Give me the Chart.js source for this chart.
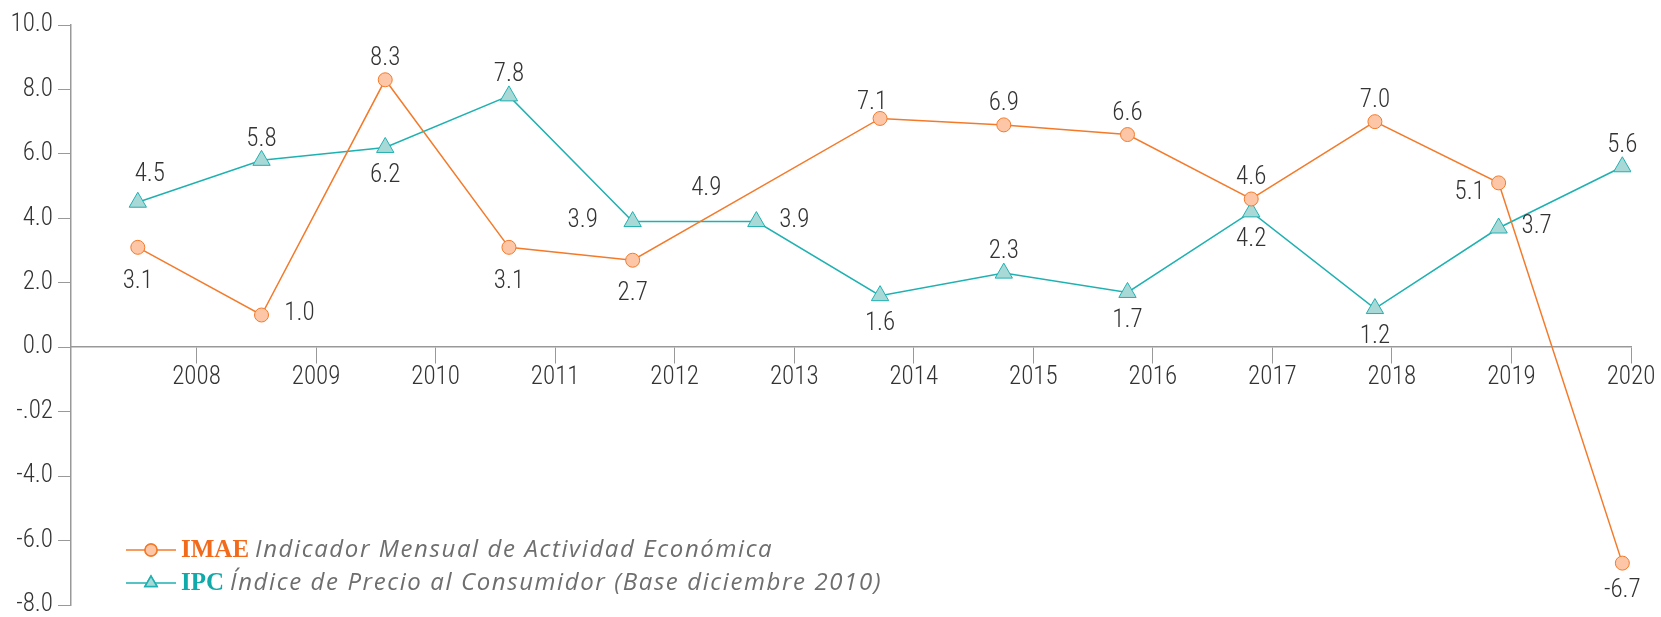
<!DOCTYPE html>
<html>
<head>
<meta charset="utf-8">
<script src="https://cdn.jsdelivr.net/npm/chart.js@4.4.1/dist/chart.umd.min.js"></script>
<style>
  html, body { margin: 0; padding: 0; background: #fff; }
  #wrap { width: 1661px; height: 617px; position: relative; }
</style>
</head>
<body>
<div id="wrap"><canvas id="chart"></canvas></div>
<script>
// data
const years = [2008, 2009, 2010, 2011, 2012, 2013, 2014, 2015, 2016, 2017, 2018, 2019, 2020];
const imae = [3.1, 1.0, 8.3, 3.1, 2.7, 4.9, 7.1, 6.9, 6.6, 4.6, 7.0, 5.1, -6.7];
const ipc = [4.5, 5.8, 6.2, 7.8, 3.9, 3.9, 1.6, 2.3, 1.7, 4.2, 1.2, 3.7, 5.6];
const yTicks = [-8, -6, -4, -2, 0, 2, 4, 6, 8, 10];
const yTickLabels = ["-8.0", "-6.0", "-4.0", "-.02", "0.0", "2.0", "4.0", "6.0", "8.0", "10.0"];
const legendNames = ["IMAE", "IPC"];
const legendTexts = ["Indicador Mensual de Actividad Económica", "Índice de Precio al Consumidor (Base diciembre 2010)"];

// where each value label sits relative to its point
const imaeLabelPos = ["belowFar", "right", "above", "belowFar", "belowFar", "left", "aboveLeft", "above", "above", "above", "above", "belowLeft", "below"];
const ipcLabelPos = ["aboveRight", "above", "below", "above", "left", "right", "below", "above", "below", "below", "below", "right", "above"];

const ORANGE = "#f47a2a";
const TEAL = "#1fb1b1";
const NUM_FONT = "'Roboto Condensed', 'DejaVu Sans Condensed', sans-serif";

const offsets = {
  above: [0, -21],
  below: [0, 28],
  belowFar: [0, 34],
  left: [-50, -1],
  right: [38, -1],
  aboveRight: [12, -27],
  aboveLeft: [-8, -16],
  belowLeft: [-29, 10],
};

const valueLabels = {
  id: "valueLabels",
  afterDatasetsDraw(chart) {
    const ctx = chart.ctx;
    ctx.save();
    ctx.font = "300 25px " + NUM_FONT;
    ctx.fillStyle = "#333";
    ctx.textAlign = "center";
    ctx.textBaseline = "middle";
    chart.data.datasets.forEach((ds, di) => {
      const meta = chart.getDatasetMeta(di);
      meta.data.forEach((pt, i) => {
        const off = offsets[ds.labelPos[i]];
        ctx.fillText(ds.values[i].toFixed(1), pt.x + off[0], pt.y + off[1]);
      });
    });
    ctx.restore();
  },
};

const legendPlugin = {
  id: "customLegend",
  afterDraw(chart) {
    const ctx = chart.ctx;
    ctx.save();
    const rows = [550, 583];
    chart.data.datasets.forEach((ds, di) => {
      const y = rows[di];
      ctx.strokeStyle = ds.borderColor;
      ctx.lineWidth = 1.5;
      ctx.beginPath();
      ctx.moveTo(126, y);
      ctx.lineTo(176, y);
      ctx.stroke();
      Chart.helpers.drawPoint(ctx, {
        pointStyle: ds.pointStyle,
        radius: di === 0 ? 6 : 7,
        borderWidth: 1,
      }, 151, y);
      ctx.fillStyle = ds.pointBackgroundColor;
      ctx.strokeStyle = ds.borderColor;
      ctx.fill();
      ctx.stroke();
      ctx.textBaseline = "middle";
      ctx.textAlign = "left";
      ctx.font = "bold 25px 'Liberation Serif', serif";
      ctx.fillStyle = di === 0 ? "#f26b1d" : "#10aaaa";
      ctx.fillText(legendNames[di], 181, y + 1);
      const w = ctx.measureText(legendNames[di]).width;
      ctx.font = "italic 24px 'Open Sans', sans-serif";
      ctx.letterSpacing = "1.6px";
      ctx.fillStyle = "#6e6e6e";
      ctx.fillText(legendTexts[di], 181 + w + 6, y);
      ctx.letterSpacing = "0px";
    });
    ctx.restore();
  },
};

new Chart(document.getElementById("chart"), {
  type: "line",
  data: {
    datasets: [
      {
        label: legendNames[0],
        values: imae,
        labelPos: imaeLabelPos,
        data: imae.map((v, i) => ({ x: i, y: v })),
        borderColor: ORANGE,
        borderWidth: 1.5,
        pointStyle: "circle",
        pointRadius: imae.map((v, i) => (i === 5 ? 0 : 7)),
        pointBackgroundColor: "#fdc6a6",
        pointBorderColor: ORANGE,
        pointBorderWidth: 1,
        tension: 0,
      },
      {
        label: legendNames[1],
        values: ipc,
        labelPos: ipcLabelPos,
        data: ipc.map((v, i) => ({ x: i, y: v })),
        borderColor: TEAL,
        borderWidth: 1.5,
        pointStyle: "triangle",
        pointRadius: 10,
        pointBackgroundColor: "#a9d9d7",
        pointBorderColor: TEAL,
        pointBorderWidth: 1,
        tension: 0,
      },
    ],
  },
  options: {
    responsive: true,
    maintainAspectRatio: false,
    animation: false,
    events: [],
    layout: { padding: { top: 25, right: 30, bottom: 12, left: 0 } },
    plugins: { legend: { display: false }, tooltip: { enabled: false } },
    scales: {
      x: {
        type: "linear",
        display: false,
        min: -0.54,
        max: 12.07,
      },
      yr: {
        axis: "x",
        type: "linear",
        position: { y: 0 },
        min: 2006.95,
        max: 2020,
        afterBuildTicks: (scale) => {
          scale.ticks = years.map((v) => ({ value: v }));
        },
        afterFit: (scale) => {
          scale.paddingTop = 0;
          scale.paddingBottom = 0;
        },
        grid: {
          drawOnChartArea: false,
          drawTicks: true,
          tickLength: 16,
          color: "#999",
        },
        border: { display: true, color: "#999", width: 1.5 },
        ticks: {
          autoSkip: false,
          maxRotation: 0,
          padding: 0,
          color: "#333",
          font: { family: NUM_FONT, size: 25, weight: 300 },
          callback: (v) => String(v),
        },
      },
      y: {
        min: -8,
        max: 10,
        afterBuildTicks: (scale) => {
          scale.ticks = yTicks.map((v) => ({ value: v }));
        },
        afterFit: (scale) => {
          scale.width = 71;
          scale.paddingTop = 0;
          scale.paddingBottom = 0;
        },
        grid: {
          drawOnChartArea: false,
          drawTicks: true,
          tickLength: 13,
          color: "#999",
        },
        border: { display: true, color: "#999", width: 1.5 },
        ticks: {
          padding: 5,
          color: "#333",
          font: { family: NUM_FONT, size: 25, weight: 300 },
          callback: (v) => yTickLabels[yTicks.indexOf(v)],
        },
      },
    },
  },
  plugins: [valueLabels, legendPlugin],
});
</script>
</body>
</html>
